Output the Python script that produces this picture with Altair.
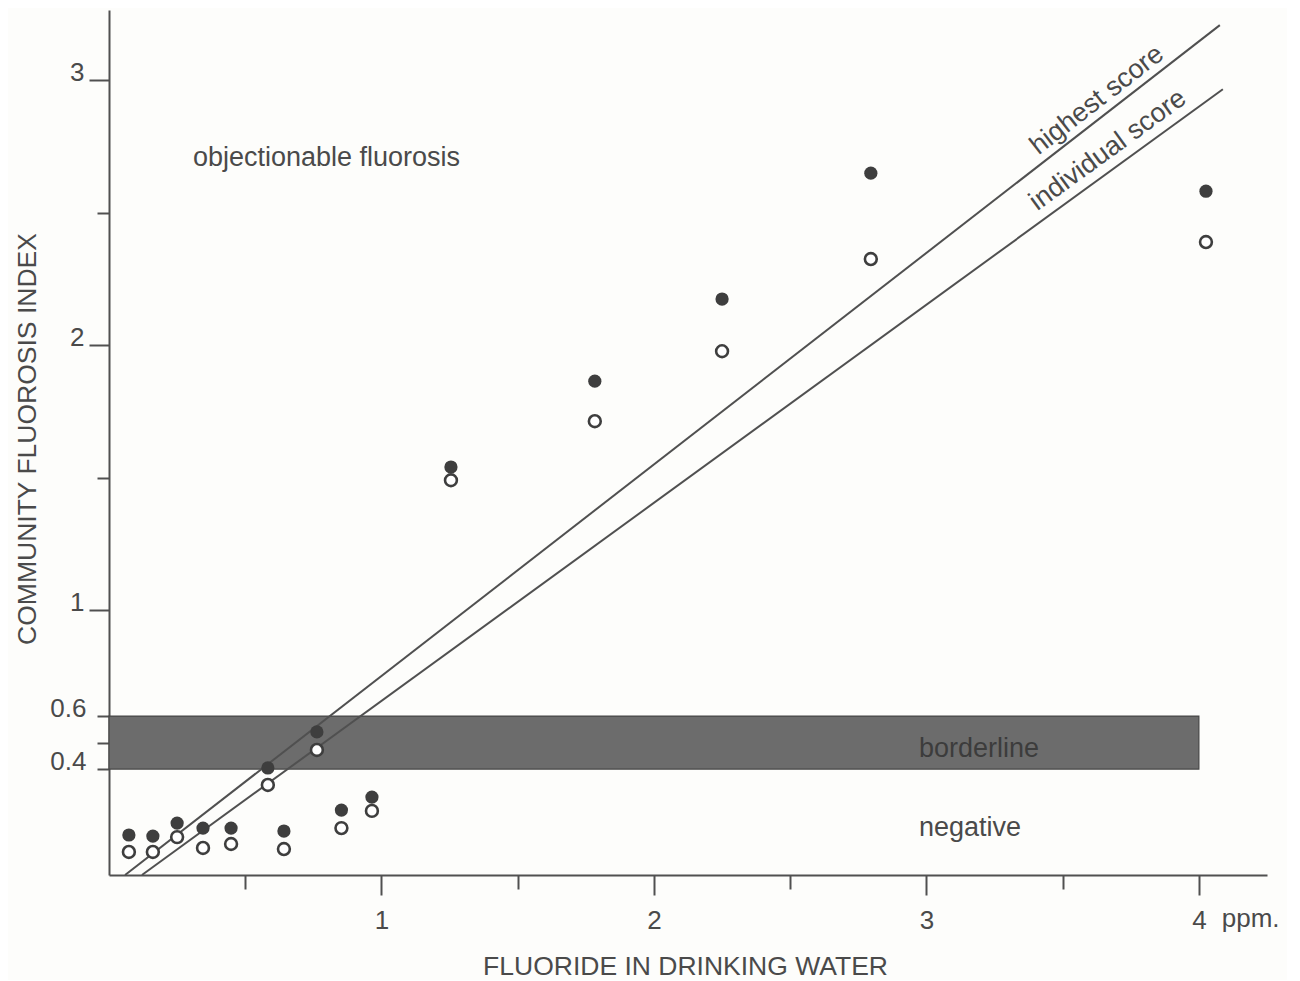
import altair as alt
import pandas as pd

# ---------------- data ----------------
fluoride_ppm = [0.073, 0.161, 0.25, 0.345, 0.448, 0.583, 0.642, 0.763, 0.853,
                0.965, 1.255, 1.783, 2.25, 2.796, 4.026]
highest_score = [0.151, 0.147, 0.196, 0.177, 0.177, 0.404, 0.166, 0.540, 0.245,
                 0.294, 1.540, 1.864, 2.174, 2.649, 2.581]
individual_score = [0.087, 0.087, 0.143, 0.102, 0.117, 0.340, 0.098, 0.472, 0.177,
                    0.242, 1.490, 1.713, 1.977, 2.325, 2.389]

line_series = ["highest score", "highest score", "individual score", "individual score"]
line_x = [0.059, 4.077, 0.121, 4.088]
line_y = [0.0, 3.208, 0.0, 2.966]

band_x = [0.0]
band_x2 = [4.0]
band_y = [0.4]
band_y2 = [0.6]

left_labels = ["objectionable fluorosis"]
left_x = [0.308]
left_y = [2.706]

center_labels = ["negative"]
center_x = [3.16]
center_y = [0.177]

border_label = ["borderline"]
border_x = [3.193]
border_y = [0.475]

line_labels = ["highest score", "individual score"]
line_label_x = [3.626, 3.666]
line_label_y = [2.925, 2.736]
line_label_angle = [322.2, 324.0]

unit_label = ["ppm."]
unit_x = [4.19]
unit_y = [-0.165]

x_major_ticks = [1, 2, 3, 4]
x_minor_ticks = [0.5, 1.5, 2.5, 3.5]
y_major_ticks = [1, 2, 3]
y_minor_ticks = [0.4, 0.5, 0.6, 1.5, 2.5]

# ---------------- styling ----------------
FONT = "Liberation Sans"
TXT = "#4a4a4a"
INK = "#505050"
W, H = 1158, 865
FS_TXT = 27
FS_TITLE = 26.5
FS_TICK = 26

points = pd.DataFrame({"x": fluoride_ppm, "hi": highest_score, "ind": individual_score})
lines = pd.DataFrame({"series": line_series, "x": line_x, "y": line_y})
band = pd.DataFrame({"x": band_x, "x2": band_x2, "y": band_y, "y2": band_y2})
left_df = pd.DataFrame({"t": left_labels, "x": left_x, "y": left_y})
center_df = pd.DataFrame({"t": center_labels, "x": center_x, "y": center_y})
border = pd.DataFrame({"t": border_label, "x": border_x, "y": border_y})
llabels = pd.DataFrame({"t": line_labels, "x": line_label_x, "y": line_label_y, "ang": line_label_angle})
unit = pd.DataFrame({"t": unit_label, "x": unit_x, "y": unit_y})

xs = alt.Scale(domain=[0, 4.25], nice=False, zero=False)
ys = alt.Scale(domain=[0, 3.265], nice=False, zero=False)

x_axis_major = alt.Axis(
    orient="bottom", values=x_major_ticks, format="d",
    tickSize=20, labelPadding=12, labelFont=FONT, labelFontSize=FS_TICK, labelColor=TXT,
    labelFlush=False, labelOverlap=False,
    domainColor=INK, domainWidth=2, tickColor=INK, tickWidth=2, grid=False,
    title="FLUORIDE IN DRINKING WATER", titleFont=FONT, titleFontSize=FS_TITLE,
    titleFontWeight="normal", titleColor=TXT, titleY=99, titleBaseline="alphabetic",
    titleX=W / 2 - 3,
)
x_axis_minor = alt.Axis(
    orient="bottom", values=x_minor_ticks, tickSize=14, labels=False, domain=False,
    tickColor=INK, tickWidth=2, grid=False, title=None,
)
y_axis_major = alt.Axis(
    orient="left", values=y_major_ticks, format="d",
    tickSize=20, labelPadding=5, labelBaseline="alphabetic",
    labelFont=FONT, labelFontSize=FS_TICK, labelColor=TXT,
    labelFlush=False, labelOverlap=False,
    domainColor=INK, domainWidth=2, tickColor=INK, tickWidth=2, grid=False,
    title="COMMUNITY FLUOROSIS INDEX", titleFont=FONT, titleFontSize=FS_TITLE,
    titleFontWeight="normal", titleColor=TXT, titleX=-74, titleY=H / 2 - 4,
    titleAngle=270, titleAlign="center", titleBaseline="alphabetic",
)
y_axis_minor = alt.Axis(
    orient="left", values=y_minor_ticks,
    labelExpr="(datum.value == 0.4 || datum.value == 0.6) ? format(datum.value, '.1f') : ''",
    tickSize=12, labelPadding=11, labelBaseline="alphabetic",
    labelFont=FONT, labelFontSize=FS_TICK, labelColor=TXT,
    labelFlush=False, labelOverlap=False, domain=False,
    tickColor=INK, tickWidth=2, grid=False, title=None,
)

band_layer = alt.Chart(band).mark_rect(fill="#6c6c6c", stroke="#464646", strokeWidth=1.2).encode(
    x=alt.X("x:Q", scale=xs, axis=x_axis_major),
    x2="x2:Q",
    y=alt.Y("y:Q", scale=ys, axis=y_axis_major),
    y2="y2:Q",
)

border_layer = alt.Chart(border).mark_text(
    font=FONT, fontSize=FS_TXT, color="#3c3c3c", align="center", baseline="middle"
).encode(x=alt.X("x:Q", scale=xs, axis=None), y=alt.Y("y:Q", scale=ys, axis=None), text="t:N")

line_layer = alt.Chart(lines).mark_line(color=INK, strokeWidth=2).encode(
    x=alt.X("x:Q", scale=xs, axis=x_axis_minor),
    y=alt.Y("y:Q", scale=ys, axis=y_axis_minor),
    detail="series:N",
)

hi_layer = alt.Chart(points).mark_point(
    shape="circle", filled=True, size=175, color="#3e3e3e", opacity=1
).encode(x=alt.X("x:Q", scale=xs, axis=None), y=alt.Y("hi:Q", scale=ys, axis=None))

ind_layer = alt.Chart(points).mark_point(
    shape="circle", size=140, fill="white", fillOpacity=1, stroke="#3e3e3e",
    strokeWidth=2.6, opacity=1
).encode(x=alt.X("x:Q", scale=xs, axis=None), y=alt.Y("ind:Q", scale=ys, axis=None))

left_layer = alt.Chart(left_df).mark_text(
    font=FONT, fontSize=FS_TXT, color=TXT, baseline="middle", align="left"
).encode(x=alt.X("x:Q", scale=xs, axis=None), y=alt.Y("y:Q", scale=ys, axis=None), text="t:N")

center_layer = alt.Chart(center_df).mark_text(
    font=FONT, fontSize=FS_TXT, color=TXT, baseline="middle", align="center"
).encode(x=alt.X("x:Q", scale=xs, axis=None), y=alt.Y("y:Q", scale=ys, axis=None), text="t:N")

llabel_layer = alt.Chart(llabels).mark_text(
    font=FONT, fontSize=FS_TXT, color=TXT, align="center", baseline="middle"
).encode(
    x=alt.X("x:Q", scale=xs, axis=None), y=alt.Y("y:Q", scale=ys, axis=None),
    text="t:N", angle=alt.Angle("ang:Q", scale=None),
)

unit_layer = alt.Chart(unit).mark_text(
    font=FONT, fontSize=FS_TICK, color=TXT, align="center", baseline="top", dy=-13
).encode(x=alt.X("x:Q", scale=xs, axis=None), y=alt.Y("y:Q", scale=ys, axis=None), text="t:N")

chart = alt.layer(
    band_layer, border_layer, line_layer, hi_layer, ind_layer,
    left_layer, center_layer, llabel_layer, unit_layer,
).resolve_axis(
    x="independent", y="independent"
).properties(
    width=W, height=H,
    background="#fdfdfb",
    padding={"left": 101, "top": 2, "right": 20, "bottom": 105},
    autosize=alt.AutoSizeParams(type="none"),
).configure_view(stroke=None)

chart.save("out.html", embed_options={"renderer": "svg", "actions": False})
